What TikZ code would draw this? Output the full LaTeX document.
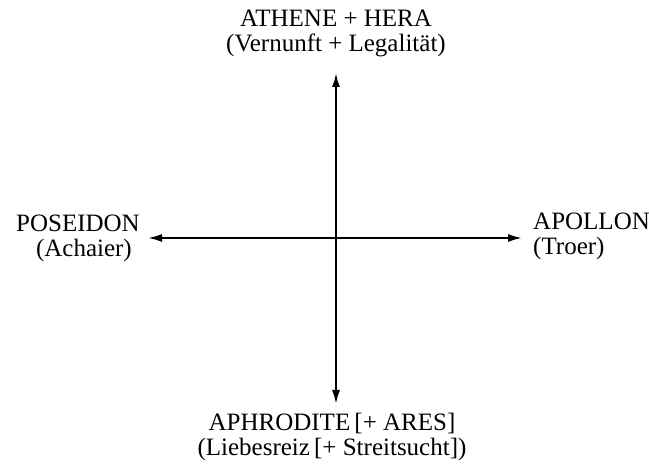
\documentclass[tikz,border=0pt]{standalone}
\usepackage{fontspec}
\setmainfont{Liberation Serif}
\usepackage{tikz}
\usetikzlibrary{arrows.meta}

\begin{document}
\begin{tikzpicture}[x=1pt,y=1pt,>={Latex[length=14pt,width=8pt]},
            axis/.style={line width=2pt},
            label/.style={inner sep=0pt,font=\fontsize{25}{25}\selectfont}]
            \useasboundingbox (0,0) rectangle (649,473);
            \coordinate (O) at (336,235);
            \coordinate (N) at (336,400);
            \coordinate (S) at (336,69);
            \coordinate (W) at (148,235);
            \coordinate (E) at (522,235);

            \draw[axis,<->] (S) -- (N);
            \draw[axis,<->] (W) -- (E);
            \node[label,anchor=base,align=center] (athene) at (336,421) {ATHENE + HERA\\(Vernunft + Legalität)};
            \node[label,anchor=base,align=center] (aphrodite) at (332,17) {APHRODITE\,[+ ARES]\\(Liebesreiz\,[+ Streitsucht])};
            \node[label,anchor=base east,align=right] (poseidon) at (140,216) {POSEIDON\\(Achaier)\hspace*{8pt}};
            \node[label,anchor=base west,align=left] (apollon) at (533,218) {APOLLON\\(Troer)};
        \end{tikzpicture}
\end{document}
